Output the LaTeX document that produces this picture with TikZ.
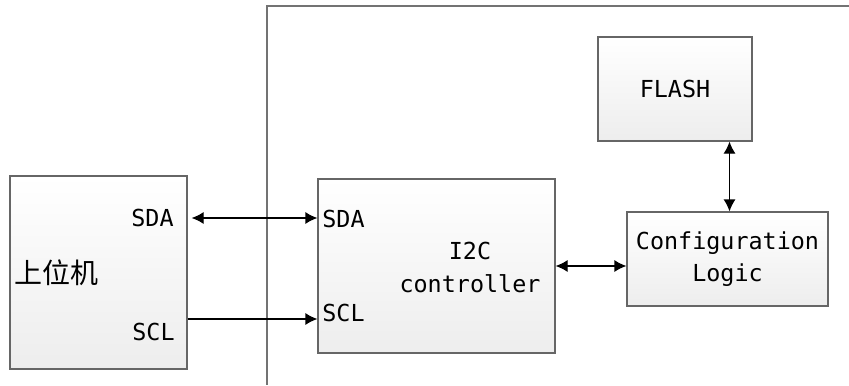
\documentclass[tikz,border=0pt]{standalone}
\usepackage{fontspec}
\setmainfont{DejaVu Sans Mono}
\newfontfamily\cjk{Noto Sans CJK SC}
\usetikzlibrary{arrows.meta, positioning}

\begin{document}
\begin{tikzpicture}[
  x=0.5pt, y=-0.5pt,
  blk/.style={rectangle, draw=black!60, line width=0.6pt, top color=white,
              bottom color=black!7, inner sep=0pt, align=center,
              font=\fontsize{11.7}{16.3}\selectfont},
  lbl/.style={inner sep=0pt, font=\fontsize{11.7}{14}\selectfont},
  arr/.style={-{Latex[length=6pt, width=6pt]}, black, line width=0.6pt},
  dblarr/.style={{Latex[length=6pt, width=6pt]}-{Latex[length=6pt, width=6pt]},
                 black, line width=0.6pt},
  frame/.style={draw=black!55, line width=0.6pt},
]
\useasboundingbox (0,0) rectangle (849,385);

% chip outline (only top and left edge visible)
\coordinate (frametr) at (849,6);
\coordinate (framebl) at (267,385);
\draw[frame] (frametr) -| (framebl);

% host
\node[blk, minimum width=88.5pt, minimum height=96.5pt] (host) at (98.5,272.5) {};
\node[lbl, anchor=east] (hostsda) at (174,218) {SDA};
\node[lbl, anchor=east] (hostscl) at (175,332) {SCL};
\node[lbl, anchor=west, font=\cjk\fontsize{14}{16}\selectfont] (hostname) at (14,273) {上位机};

% i2c controller
\node[blk, minimum width=118.5pt, minimum height=87pt] (ctrl) at (436.5,266) {};
\node[lbl, anchor=west] (ctrlsda) at (322,219) {SDA};
\node[lbl, anchor=west] (ctrlscl) at (322,313) {SCL};
\node[lbl, align=center, font=\fontsize{11.7}{16.5}\selectfont] (ctrlname) at (470,267) {I2C\\controller};

% configuration logic and flash
\node[blk, minimum width=100.5pt, minimum height=47pt] (cfg) at (727.5,259) {Configuration\\Logic};
\node[blk, minimum width=77pt, minimum height=52pt] (flash) at (675,89) {FLASH};

\draw[dblarr] ([xshift=2pt]host.east |- hostsda) -- (ctrl.west |- hostsda);
\draw[arr] ([yshift=-3pt]host.east |- ctrlscl) -- ([yshift=-3pt]ctrl.west |- ctrlscl);
\draw[dblarr] (ctrl.east) -- (cfg.west |- ctrl.east);
\draw[dblarr] ([xshift=1pt]cfg.north |- flash.south) -- ([xshift=1pt]cfg.north);
\end{tikzpicture}
\end{document}
